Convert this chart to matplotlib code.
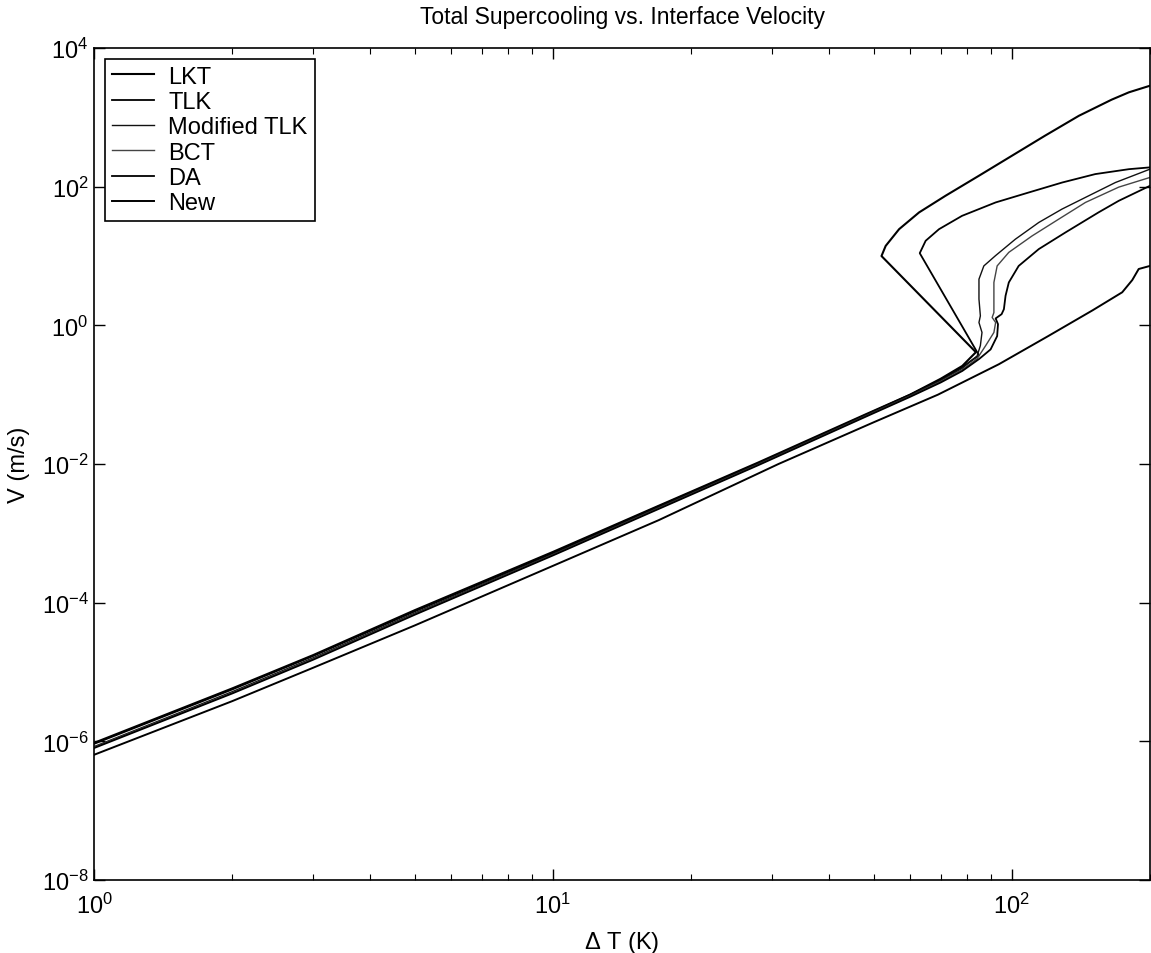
import numpy as np
import matplotlib
matplotlib.use("Agg")
from matplotlib import pyplot as plt
from matplotlib.ticker import LogLocator, NullFormatter

plt.rcParams['font.family'] = ['Liberation Sans', 'DejaVu Sans']
plt.rcParams['mathtext.fontset'] = 'custom'
plt.rcParams['mathtext.rm'] = 'Liberation Sans'
plt.rcParams['mathtext.it'] = 'Liberation Sans:italic'
plt.rcParams['mathtext.bf'] = 'Liberation Sans:bold'

# curves: supercooling dT (K) vs interface velocity V (m/s)
lkt_dT = [1, 2, 3, 5, 10, 17, 28, 48, 60, 70, 78, 83.5,
          52, 53.1, 56.8, 62.8, 71.7, 84.8, 100, 118, 140, 165, 180, 200]
lkt_V = [9.5e-7, 5.8e-6, 1.75e-5, 7.8e-5, 5.4e-4, 2.5e-3, 1.05e-2, 0.052, 0.1, 0.17, 0.26, 0.41,
         10, 14, 24.4, 42.6, 74, 144, 279, 542, 1054, 1800, 2300, 2860]

tlk_dT = [1, 2, 3, 5, 10, 17, 28, 48, 60, 70, 78, 84.8,
          63, 64.9, 69.4, 77.9, 92.2, 108.9, 128.8, 152, 180, 200]
tlk_V = [9.2e-7, 5.6e-6, 1.7e-5, 7.5e-5, 5.2e-4, 2.45e-3, 1.02e-2, 0.051, 0.1, 0.165, 0.25, 0.37,
         11, 16.6, 24.4, 38, 59.3, 82.6, 115, 152, 179, 190]

mtlk_dT = [1, 2, 3, 5, 10, 17, 28, 48, 60, 70, 78, 80.6, 84.0, 85.4, 86.1, 84.8, 85.4,
           84.8, 84.8, 86.9, 92.1, 101.8, 114.5, 128.6, 147.1, 168.2, 200]
mtlk_V = [8.4e-7, 5.2e-6, 1.6e-5, 7.1e-5, 5.0e-4, 2.35e-3, 1.0e-2, 0.05, 0.097, 0.16, 0.24, 0.29, 0.36,
          0.51, 0.79, 1.10, 1.37, 2.39, 4.64, 7.2, 10.1, 17.5, 30.5, 47.5, 74, 115, 179]

bct_dT = [1, 2, 3, 5, 10, 17, 28, 48, 60, 70, 78, 84, 87.7, 91.4, 92.2, 90.6, 91.4,
          91.4, 91.4, 92.9, 98.5, 110.7, 126.5, 144.7, 171, 200]
bct_V = [8.2e-7, 5.0e-6, 1.55e-5, 6.9e-5, 4.9e-4, 2.3e-3, 9.8e-3, 0.049, 0.095, 0.155, 0.23, 0.33,
         0.51, 0.79, 1.10, 1.30, 1.53, 2.39, 4.16, 7.2, 11.3, 19.5, 34, 59.3, 98.6, 136]

da_dT = [1, 2, 3, 5, 10, 17, 28, 48, 60, 70, 78, 85, 89.9, 92.9, 93.3, 92.2, 95.0,
         96.1, 96.9, 98.5, 103.5, 114.5, 130.9, 154.5, 171, 200]
da_V = [8.0e-7, 4.9e-6, 1.5e-5, 6.7e-5, 4.8e-4, 2.25e-3, 9.6e-3, 0.048, 0.093, 0.15, 0.22, 0.33,
        0.45, 0.70, 1.04, 1.26, 1.45, 1.71, 2.67, 4.16, 7.2, 12.6, 21.9, 42.6, 62.6, 103]

new_dT = [1, 2, 3, 5, 10, 17, 31, 50, 69, 93.7, 120, 150, 174, 183, 189, 200]
new_V = [6.4e-7, 3.8e-6, 1.15e-5, 4.7e-5, 3.4e-4, 1.55e-3, 1e-2, 0.04, 0.1, 0.275,
         0.7, 1.65, 3.0, 4.5, 6.5, 7.2]

labels = ['LKT', 'TLK', 'Modified TLK', 'BCT', 'DA', 'New']

fig = plt.figure(figsize=(11.51, 9.54), dpi=100)
ax = fig.add_axes([0.0817, 0.0765, 0.9174, 0.8721])

ax.loglog(lkt_dT, lkt_V, color='black', lw=1.5, label=labels[0])
ax.loglog(tlk_dT, tlk_V, color='black', lw=1.3, label=labels[1])
ax.loglog(mtlk_dT, mtlk_V, color='#111111', lw=1.0, label=labels[2])
ax.loglog(bct_dT, bct_V, color='#444444', lw=1.0, label=labels[3])
ax.loglog(da_dT, da_V, color='black', lw=1.3, label=labels[4])
ax.loglog(new_dT, new_V, color='black', lw=1.4, label=labels[5])

ax.set_xlim(1, 200)
ax.set_ylim(1e-8, 1e4)
ax.set_yticks([1e-8, 1e-6, 1e-4, 1e-2, 1e0, 1e2, 1e4])
ax.yaxis.set_minor_locator(LogLocator(base=10, subs=[1.0], numticks=20))
ax.yaxis.set_minor_formatter(NullFormatter())
ax.xaxis.set_minor_locator(LogLocator(base=10, subs=np.arange(2, 10), numticks=20))
ax.xaxis.set_minor_formatter(NullFormatter())

ax.tick_params(which='both', direction='in', top=True, right=True, labelsize=17)
ax.tick_params(which='major', length=8, width=1)
ax.tick_params(which='minor', length=4, width=0.8)
ax.tick_params(axis='y', which='minor', length=0)
ax.tick_params(axis='x', which='major', pad=9)
ax.tick_params(axis='y', which='major', pad=4)
for s in ax.spines.values():
    s.set_linewidth(1.2)

ax.set_title('Total Supercooling vs. Interface Velocity', fontsize=16.5, pad=18)
ax.set_xlabel(r'$\Delta$ T (K)', fontsize=17, labelpad=8)
ax.set_ylabel('V (m/s)', fontsize=17, labelpad=8)

leg = ax.legend(loc='upper left', fontsize=17, fancybox=False, framealpha=1,
                edgecolor='black', borderaxespad=0.45, handlelength=1.8,
                labelspacing=0.14, borderpad=0.3, handletextpad=0.6)
leg.get_frame().set_linewidth(1.2)

fig.savefig('out.png', dpi=100)
